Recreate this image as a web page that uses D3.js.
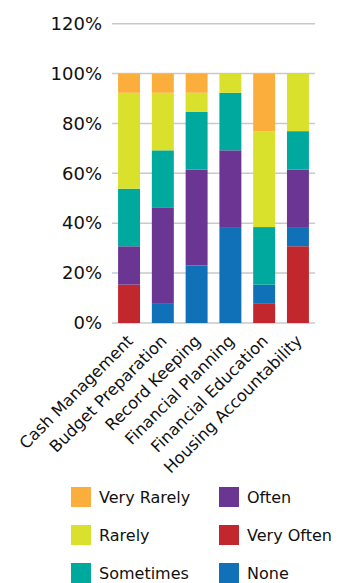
<!DOCTYPE html>
<html>
<head>
<meta charset="utf-8">
<script src="https://cdn.jsdelivr.net/npm/d3@7"></script>
<style>
  html, body { margin: 0; padding: 0; background: #fff; }
  svg { display: block; font-family: "DejaVu Sans", sans-serif; }
</style>
</head>
<body>
<svg id="chart" width="345" height="583"></svg>
<script>
// Share of responses per skill area (percent of respondents)
const categories = ["Cash Management", "Budget Preparation", "Record Keeping",
                    "Financial Planning", "Financial Education", "Housing Accountability"];
const seriesNames = ["Very Often", "None", "Often", "Sometimes", "Rarely", "Very Rarely"];
const veryOften  = [15.38, 0, 0, 0, 7.69, 30.77];
const none       = [0, 7.69, 23.08, 38.46, 7.69, 7.69];
const often      = [15.38, 38.46, 38.46, 30.77, 0, 23.08];
const sometimes  = [23.08, 23.08, 23.08, 23.08, 23.08, 15.38];
const rarely     = [38.46, 23.08, 7.69, 7.69, 38.46, 23.08];
const veryRarely = [7.69, 7.69, 7.69, 0, 23.08, 0];
const tickValues = [0, 20, 40, 60, 80, 100, 120];
const legendOrder = ["Very Rarely", "Rarely", "Sometimes", "Often", "Very Often", "None"];

const seriesValues = [veryOften, none, often, sometimes, rarely, veryRarely];
const colors = {
  "Very Often": "#c1272d",
  "None": "#1071b9",
  "Often": "#6a3593",
  "Sometimes": "#00a99d",
  "Rarely": "#d9e12c",
  "Very Rarely": "#fbae3b"
};

const rows = categories.map((c, i) => {
  const r = { category: c };
  seriesNames.forEach((s, j) => { r[s] = seriesValues[j][i]; });
  return r;
});

const svg = d3.select("#chart");
const plot = { left: 112, right: 315, top: 23.7, bottom: 323 };

const x = d3.scaleBand()
  .domain(categories)
  .range([plot.left, plot.right])
  .paddingInner(0.35)
  .paddingOuter(0.18);

const y = d3.scaleLinear()
  .domain([0, 120])
  .range([plot.bottom, plot.top]);

// horizontal gridlines
svg.append("g")
  .selectAll("line")
  .data(tickValues)
  .join("line")
  .attr("x1", plot.left)
  .attr("x2", plot.right)
  .attr("y1", d => y(d))
  .attr("y2", d => y(d))
  .attr("stroke", "#c9c9c9")
  .attr("stroke-width", 1.5);

// y axis labels
const yAxis = d3.axisLeft(y)
  .tickValues(tickValues)
  .tickFormat(d => d + "%")
  .tickSize(0)
  .tickPadding(10);
const yg = svg.append("g")
  .attr("transform", `translate(${plot.left},0)`)
  .call(yAxis);
yg.select(".domain").remove();
yg.selectAll("text")
  .attr("font-family", "DejaVu Sans, sans-serif")
  .attr("font-size", 18)
  .attr("fill", "#111");

// stacked bars
const stack = d3.stack().keys(seriesNames);
const layers = stack(rows);

svg.append("g")
  .selectAll("g")
  .data(layers)
  .join("g")
  .attr("fill", d => colors[d.key])
  .selectAll("rect")
  .data(d => d)
  .join("rect")
  .attr("x", d => x(d.data.category))
  .attr("width", x.bandwidth())
  .attr("y", d => y(d[1]))
  .attr("height", d => y(d[0]) - y(d[1]));

// category labels, rotated
const xAxis = d3.axisBottom(x).tickSize(0).tickPadding(0);
const xg = svg.append("g")
  .attr("transform", `translate(0,${plot.bottom})`)
  .call(xAxis);
xg.select(".domain").remove();
xg.selectAll("text")
  .attr("font-family", "DejaVu Sans, sans-serif")
  .attr("font-size", 16.3)
  .attr("fill", "#111")
  .attr("text-anchor", "end")
  .attr("dy", null)
  .attr("y", 0)
  .attr("transform", "translate(5,19) rotate(-45)");

// legend
const legend = svg.append("g");
const legendItems = legend.selectAll("g")
  .data(legendOrder)
  .join("g")
  .attr("transform", (d, i) => `translate(${71 + Math.floor(i / 3) * 148},${487 + (i % 3) * 38})`);
legendItems.append("rect")
  .attr("width", 20)
  .attr("height", 20)
  .attr("fill", d => colors[d]);
legendItems.append("text")
  .attr("x", 28)
  .attr("y", 16)
  .attr("font-size", 16)
  .attr("fill", "#111")
  .text(d => d);
</script>
</body>
</html>
